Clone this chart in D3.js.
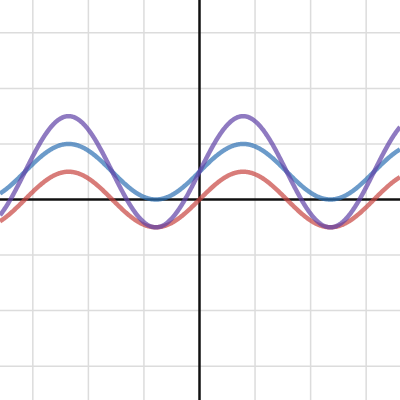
<!DOCTYPE html>
<html><head><meta charset="utf-8">
<script src="https://cdn.jsdelivr.net/npm/d3@7"></script>
<style>html,body{margin:0;padding:0;background:#fff}svg{display:block}</style>
</head><body>
<script>
// Series: y = amplitude * sin(frequency * x) + offset
const seriesNames = ["red", "blue", "purple"];
const amplitudes = [0.5, 0.5, 1.0];
const offsets = [0, 0.5, 0.5];
const frequencies = [2, 2, 2];
const colors = ["#c74440", "#2d70b3", "#6042a6"];
const gridTicks = [-3, -2, -1, 1, 2, 3];

const W = 400, H = 400;
const x = d3.scaleLinear().domain([-3.591, 3.609]).range([0, W]);
const y = d3.scaleLinear().domain([3.591, -3.609]).range([0, H]);

const svg = d3.select("body").append("svg").attr("width", W).attr("height", H);

const grid = svg.append("g");
grid.selectAll("line.v").data(gridTicks).join("line")
  .attr("x1", d => x(d)).attr("x2", d => x(d)).attr("y1", 0).attr("y2", H)
  .attr("stroke", "#dcdcdc").attr("stroke-width", 1.5);
grid.selectAll("line.h").data(gridTicks).join("line")
  .attr("y1", d => y(d)).attr("y2", d => y(d)).attr("x1", 0).attr("x2", W)
  .attr("stroke", "#dcdcdc").attr("stroke-width", 1.5);

svg.append("line").attr("x1", x(0)).attr("x2", x(0)).attr("y1", 0).attr("y2", H)
  .attr("stroke", "#111").attr("stroke-width", 2.5);
svg.append("line").attr("y1", y(0)).attr("y2", y(0)).attr("x1", 0).attr("x2", W)
  .attr("stroke", "#111").attr("stroke-width", 2.5);

const xs = d3.range(0, 721).map(i => x.invert(i * W / 720));
const line = d3.line().x(d => x(d[0])).y(d => y(d[1]));
seriesNames.forEach((n, i) => {
  const pts = xs.map(v => [v, amplitudes[i] * Math.sin(frequencies[i] * v) + offsets[i]]);
  svg.append("path").datum(pts).attr("d", line)
    .attr("fill", "none").attr("stroke", colors[i]).attr("stroke-width", 4.5)
    .attr("stroke-opacity", 0.7).attr("stroke-linejoin", "round");
});
</script>
</body></html>
